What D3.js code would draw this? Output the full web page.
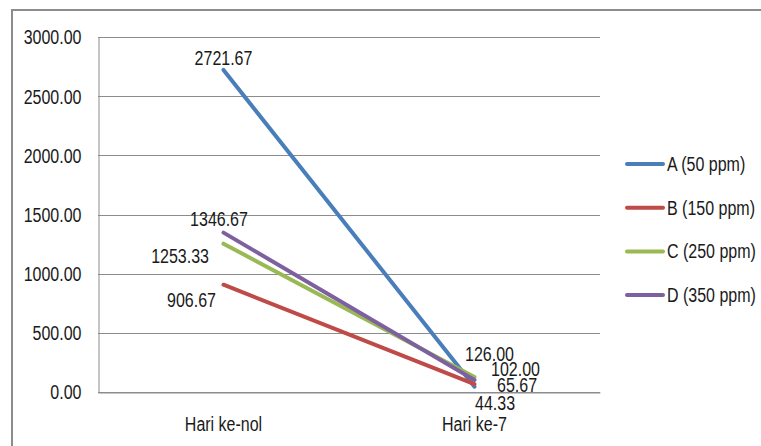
<!DOCTYPE html>
<html>
<head>
<meta charset="utf-8">
<script src="https://cdn.jsdelivr.net/npm/d3@7"></script>
<style>
  html, body { margin: 0; padding: 0; background: #fff; }
  svg { display: block; }
  svg text { font-family: "Liberation Sans", Arial, sans-serif; font-size: 20px; fill: #1a1a1a; }
</style>
</head>
<body>
<svg id="chart" width="761" height="446"></svg>
<script>
// Categories (days) and series values
const categories = ["Hari ke-nol", "Hari ke-7"];
const seriesNames = ["A (50 ppm)", "B (150 ppm)", "C (250 ppm)", "D (350 ppm)"];
const seriesA = [2721.67, 44.33];
const seriesB = [906.67, 65.67];
const seriesC = [1253.33, 126.00];
const seriesD = [1346.67, 102.00];
const yTicks = [0, 500, 1000, 1500, 2000, 2500, 3000];

const colors = ["#4a7ebb", "#be4b48", "#98b954", "#7d60a0"];
// Data-label placement per series and point: [dx, dy, anchor]
const labelPlacement = [
  [[0, -5, "middle"], [0.5, 23, "start"]],
  [[-7.5, 22, "end"], [22.5, 8, "start"]],
  [[-14.5, 19, "end"], [-9.5, -16, "start"]],
  [[-4.5, -7, "middle"], [16.5, -4, "start"]]
];

const series = [seriesA, seriesB, seriesC, seriesD].map((values, i) => ({
  name: seriesNames[i], values, color: colors[i]
}));

// Narrow lettering: squeeze text horizontally while keeping its anchor point
const K = 0.8;
function condense(sel) {
  sel.each(function () {
    const t = d3.select(this);
    const x0 = +(t.attr("x") || 0);
    t.attr("x", x0 / K).attr("transform", `scale(${K},1)`);
  });
}

const svg = d3.select("#chart");
const plot = { left: 98, right: 600, top: 37, bottom: 392 };

const x = d3.scaleBand().domain(categories).range([plot.left, plot.right]);
const y = d3.scaleLinear().domain([0, 3000]).range([plot.bottom, plot.top]);

// Outer chart border (top and left edges)
svg.append("path")
  .attr("d", `M12,460 L12,10 L780,10`)
  .attr("fill", "none").attr("stroke", "#8c8c8c").attr("stroke-width", 2);

// Horizontal gridlines
svg.append("g").selectAll("line").data(yTicks).join("line")
  .attr("x1", plot.left).attr("x2", plot.right)
  .attr("y1", d => Math.round(y(d)) + 0.5).attr("y2", d => Math.round(y(d)) + 0.5)
  .attr("stroke", "#8c8c8c").attr("stroke-width", 1);

// Y axis
const yAxis = d3.axisLeft(y).tickValues(yTicks).tickFormat(d3.format(".2f")).tickSize(0).tickPadding(17);
const yG = svg.append("g").attr("transform", `translate(${plot.left + 0.5},0.5)`).call(yAxis);
yG.select(".domain").attr("stroke", "#8c8c8c");
yG.attr("font-family", null).attr("font-size", null);
yG.selectAll("text").attr("fill", "#1a1a1a").call(condense);

// X axis
const xAxis = d3.axisBottom(x).tickSize(0).tickPadding(24);
const xG = svg.append("g").attr("transform", `translate(0,${plot.bottom + 0.5})`).call(xAxis);
xG.select(".domain").attr("stroke", "#8c8c8c");
xG.attr("font-family", null).attr("font-size", null);
xG.selectAll("text").attr("fill", "#1a1a1a").call(condense);

const cx = c => x(c) + x.bandwidth() / 2;
const line = d3.line().x((d, i) => cx(categories[i])).y(d => y(d));

// Series lines
svg.append("g").selectAll("path").data(series).join("path")
  .attr("d", s => line(s.values))
  .attr("fill", "none")
  .attr("stroke", s => s.color)
  .attr("stroke-width", 4)
  .attr("stroke-linecap", "round");

// Data labels
const labels = svg.append("g");
series.forEach((s, si) => {
  s.values.forEach((v, i) => {
    const [dx, dy, anchor] = labelPlacement[si][i];
    labels.append("text")
      .attr("x", cx(categories[i]) + dx)
      .attr("y", y(v) + dy)
      .attr("text-anchor", anchor)
      .text(d3.format(".2f")(v));
  });
});
labels.selectAll("text").call(condense);

// Legend
const legend = svg.append("g").attr("transform", "translate(627,164)");
const item = legend.selectAll("g").data(series).join("g")
  .attr("transform", (d, i) => `translate(0,${i * 43.7})`);
item.append("line").attr("x1", 0).attr("x2", 36).attr("y1", 0).attr("y2", 0)
  .attr("stroke", d => d.color).attr("stroke-width", 4).attr("stroke-linecap", "round");
item.append("text").attr("x", 40).attr("y", 0).attr("dy", "0.35em")
  .text(d => d.name).call(condense);
</script>
</body>
</html>
